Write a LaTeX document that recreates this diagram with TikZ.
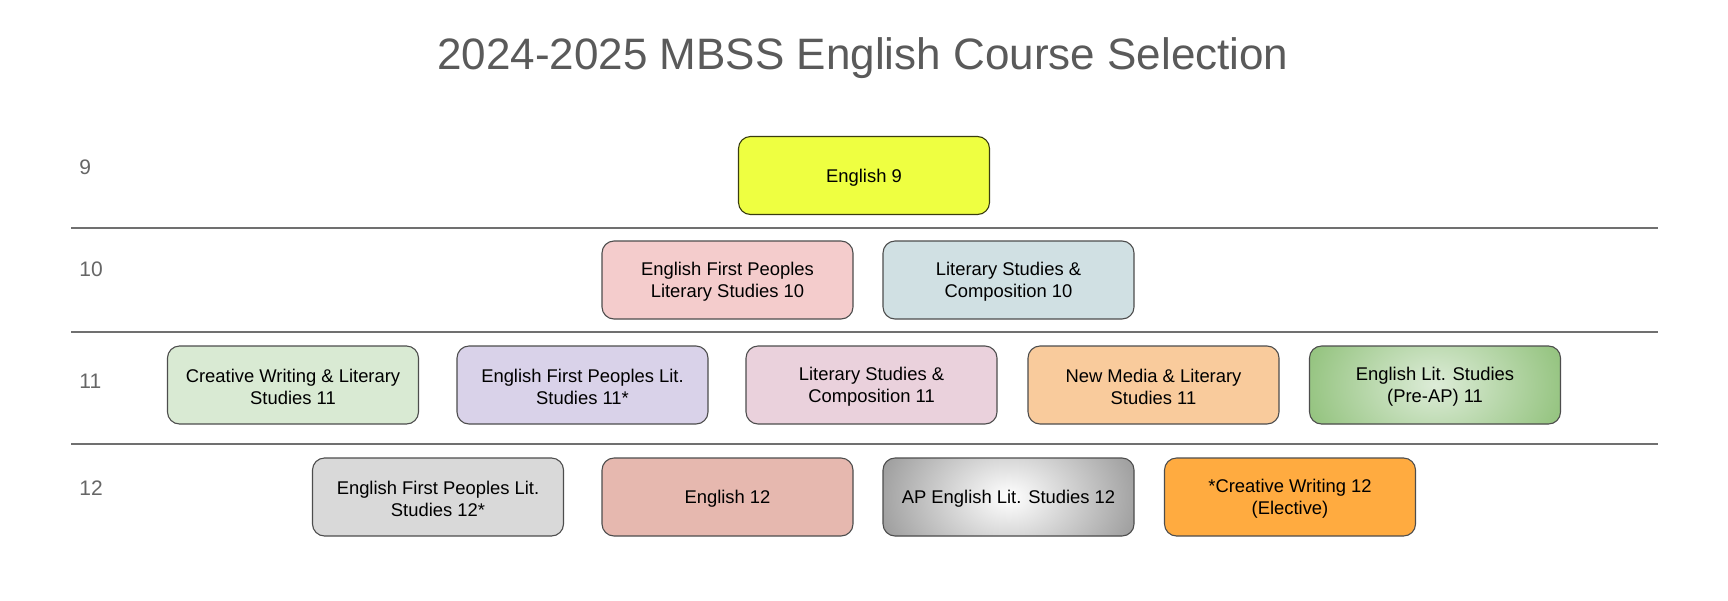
\documentclass[tikz,border=0pt]{standalone}
\usepackage{fontspec}
\setmainfont{Liberation Sans}
\definecolor{titlegray}{HTML}{5A5A5A}
\definecolor{labelgray}{HTML}{666666}
\definecolor{rulegray}{HTML}{707070}
\definecolor{edgegray}{HTML}{4D4D4D}
\definecolor{cyellow}{HTML}{EEFF41}
\definecolor{cpink}{HTML}{F4CCCC}
\definecolor{cblue}{HTML}{D0E0E3}
\definecolor{cgreen}{HTML}{D9EAD3}
\definecolor{cpurple}{HTML}{D9D2E9}
\definecolor{cmauve}{HTML}{EAD1DC}
\definecolor{corange}{HTML}{F9CB9C}
\definecolor{cgreendark}{HTML}{90C17A}
\definecolor{cgreenlight}{HTML}{DDECD8}
\definecolor{cgrey}{HTML}{D9D9D9}
\definecolor{cred}{HTML}{E6B8AF}
\definecolor{cgreymid}{HTML}{999999}
\definecolor{cbright}{HTML}{FFAB40}
\tikzset{
  course/.style={draw=edgegray, line width=0.55pt, rounded corners=6pt,
    minimum width=125.5pt, minimum height=39pt, inner sep=2pt},
  coursetext/.style={align=center, yshift=-1.1pt, inner sep=0pt, text=black,
    font=\fontsize{9.2pt}{11pt}\selectfont},
  glow/.style 2 args={path picture={
    \fill[#2] (path picture bounding box.south west) rectangle (path picture bounding box.north east);
    \shade[inner color=#1, outer color=#2] (path picture bounding box.center) ellipse [x radius=70pt, y radius=50pt];}},
  rowlabel/.style={anchor=west, text=labelgray, font=\fontsize{10.5pt}{12pt}\selectfont, inner sep=0pt},
  rowrule/.style={draw=rulegray, line width=0.6pt}
}
\begin{document}
\begin{tikzpicture}[x=0.5pt,y=-0.5pt]
\useasboundingbox (0,0) rectangle (1728,600);
\fill[white] (0,0) rectangle (1728,600);
\node[anchor=base, inner sep=0pt, text=titlegray, font=\fontsize{22pt}{24pt}\selectfont] (title) at (863,69) {2024-2025 MBSS English Course Selection};

% row rules
\coordinate (r1a) at (71,228); \coordinate (r1b) at (1658,228);
\coordinate (r2a) at (71,332); \coordinate (r2b) at (1658,332);
\coordinate (r3a) at (71,444); \coordinate (r3b) at (1658,444);
\draw[rowrule] (r1a) -- (r1b);
\draw[rowrule] (r2a) -- (r2b);
\draw[rowrule] (r3a) -- (r3b);

% row labels
\node[rowlabel] (g9) at (79,167) {9};
\node[rowlabel] (g10) at (79,269) {10};
\node[rowlabel] (g11) at (79,381) {11};
\node[rowlabel] (g12) at (79,488) {12};

% grade 9
\node[course, fill=cyellow, draw=black!60!cyellow!60!black,
  label={[coursetext]center:English 9}] (e9) at (864,175.5) {};

% grade 10
\node[course, fill=cpink, label={[coursetext]center:{English First Peoples\\Literary Studies 10}}] (efp10) at (727.5,280) {};
\node[course, fill=cblue, label={[coursetext]center:{Literary Studies \&\\Composition 10}}] (lsc10) at (1008.5,280) {};

% grade 11
\node[course, fill=cgreen, label={[coursetext]center:{Creative Writing \& Literary\\Studies 11}}] (cw11) at (293,385) {};
\node[course, fill=cpurple, label={[coursetext]center:{English First Peoples Lit.\\Studies 11*}}] (efp11) at (582.5,385) {};
\node[course, fill=cmauve, label={[coursetext]center:{Literary Studies \&\\Composition 11}}] (lsc11) at (871.5,385) {};
\node[course, fill=corange, label={[coursetext]center:{New Media \& Literary\\Studies 11}}] (nm11) at (1153.5,385) {};
\node[course, glow={cgreenlight}{cgreendark}, label={[coursetext]center:{English Lit. Studies\\(Pre-AP) 11}}] (pre11) at (1435,385) {};

% grade 12
\node[course, fill=cgrey, label={[coursetext]center:{English First Peoples Lit.\\Studies 12*}}] (efp12) at (438,497) {};
\node[course, fill=cred, label={[coursetext]center:English 12}] (e12) at (727.5,497) {};
\node[course, glow={white}{cgreymid}, label={[coursetext]center:AP English Lit. Studies 12}] (ap12) at (1008.5,497) {};
\node[course, fill=cbright, label={[coursetext]center:{*Creative Writing 12\\(Elective)}}] (cw12) at (1290,497) {};
\end{tikzpicture}
\end{document}
